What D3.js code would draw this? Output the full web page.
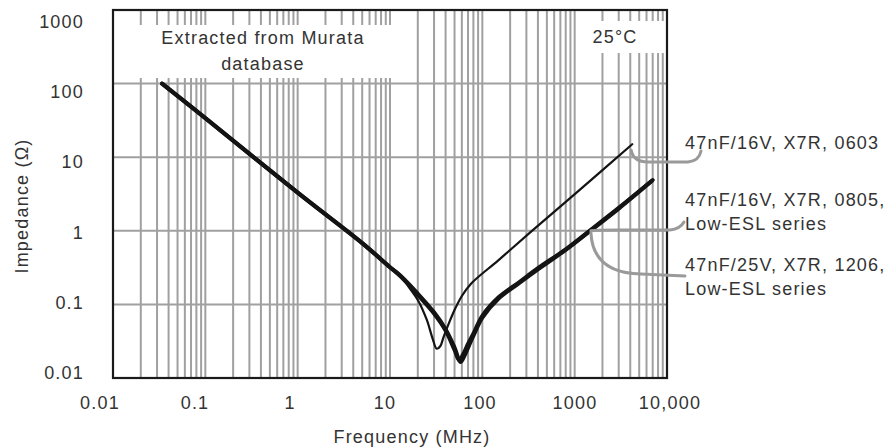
<!DOCTYPE html>
<html>
<head>
<meta charset="utf-8">
<script src="https://cdn.jsdelivr.net/npm/d3@7"></script>
<style>
  html, body { margin: 0; padding: 0; background: #fff; }
  svg text { font-family: "Liberation Sans", Arial, Helvetica, sans-serif; fill: #333; }
</style>
</head>
<body>
<svg id="chart" width="896" height="448"></svg>
<script>
// ---------- data ----------
const xTicks = [0.01, 0.1, 1, 10, 100, 1000, 10000];
const xTickLabels = ["0.01", "0.1", "1", "10", "100", "1000", "10,000"];
const yTicks = [0.01, 0.1, 1, 10, 100, 1000];
const yTickLabels = ["0.01", "0.1", "1", "10", "100", "1000"];

const freq0603 = [0.034, 0.1, 1, 5, 10, 13, 16, 20, 25, 29, 32, 35, 38, 42, 50, 60, 75, 150, 330, 1150, 4200];
const z0603    = [100, 34, 3.3, 0.68, 0.33, 0.245, 0.172, 0.115, 0.062, 0.034, 0.025, 0.027, 0.036, 0.05, 0.084, 0.13, 0.19, 0.40, 0.95, 3.65, 15];

const freq0805 = [0.034, 0.1, 1, 5, 10, 13, 20, 30, 40, 50, 56, 62, 70, 80, 100, 150, 250, 400, 800, 1450, 3000, 7000];
const z0805    = [100, 34, 3.3, 0.68, 0.32, 0.24, 0.135, 0.075, 0.044, 0.024, 0.0175, 0.021, 0.029, 0.04, 0.07, 0.125, 0.2, 0.31, 0.56, 1.0, 2.05, 4.9];

const freq1206 = [0.034, 0.1, 1, 5, 10, 13, 20, 30, 40, 50, 58, 64, 72, 82, 100, 150, 250, 400, 800, 1450, 3000, 6800];
const z1206    = [100, 34, 3.3, 0.68, 0.32, 0.245, 0.14, 0.078, 0.046, 0.026, 0.0165, 0.02, 0.028, 0.04, 0.066, 0.12, 0.195, 0.3, 0.55, 0.98, 2.0, 4.7];

const seriesLabels = [
  ["47nF/16V, X7R, 0603"],
  ["47nF/16V, X7R, 0805,", "Low-ESL series"],
  ["47nF/25V, X7R, 1206,", "Low-ESL series"]
];
const boxNote = ["Extracted from Murata", "database"];
const tempNote = "25°C";
const xTitle = "Frequency (MHz)";
const yTitle = "Impedance (Ω)";

// ---------- layout ----------
const svg = d3.select("#chart");
const L = 113, R = 667, T = 10, B = 378;
const FS = 18, LS = 1.2;

const x = d3.scaleLog().domain([0.01, 10000]).range([L, R]);
const y = d3.scaleLog().domain([0.01, 1000]).range([B, T]);
// tick labels sit slightly spread compared to the grid in the reference
const xLab = d3.scaleLog().domain([0.01, 10000]).range([100, 670]);
const yLab = d3.scaleLog().domain([0.01, 1000]).range([373, 22]);

// ---------- grid ----------
const minor = [];
for (let e = -2; e < 4; e++) for (let n = 1; n < 10; n++) minor.push(n * Math.pow(10, e));
const grid = svg.append("g");
grid.selectAll("line.v").data(minor.filter(v => v > 0.01)).join("line")
  .attr("x1", d => x(d)).attr("x2", d => x(d))
  .attr("y1", T).attr("y2", B)
  .attr("stroke", "#a0a0a0").attr("stroke-width", 2);
grid.selectAll("line.h").data(yTicks.slice(1, -1)).join("line")
  .attr("x1", L).attr("x2", R)
  .attr("y1", d => y(d)).attr("y2", d => y(d))
  .attr("stroke", "#a0a0a0").attr("stroke-width", 2);

// white note boxes that interrupt the grid
svg.append("rect").attr("x", L + 1).attr("y", 25).attr("width", 405 - L).attr("height", 53).attr("fill", "#fff");
svg.append("rect").attr("x", 586).attr("y", 21).attr("width", R - 587).attr("height", 32).attr("fill", "#fff");

svg.append("text").attr("x", 263).attr("y", 38).attr("text-anchor", "middle")
  .attr("dominant-baseline", "central").attr("font-size", FS).attr("letter-spacing", LS).text(boxNote[0]);
svg.append("text").attr("x", 263).attr("y", 64).attr("text-anchor", "middle")
  .attr("dominant-baseline", "central").attr("font-size", FS).attr("letter-spacing", LS).text(boxNote[1]);
svg.append("text").attr("x", 615).attr("y", 37).attr("text-anchor", "middle")
  .attr("dominant-baseline", "central").attr("font-size", FS).attr("letter-spacing", LS).text(tempNote);

// ---------- curves ----------
const line = d3.line().x(d => x(d[0])).y(d => y(d[1])).curve(d3.curveCatmullRom.alpha(0.5));
const curves = [
  { f: freq0805, z: z0805, w: 4 },
  { f: freq1206, z: z1206, w: 4 },
  { f: freq0603, z: z0603, w: 2.2 }
];
svg.append("g").selectAll("path").data(curves).join("path")
  .attr("d", c => line(c.f.map((f, i) => [f, c.z[i]])))
  .attr("fill", "none").attr("stroke", "#141414")
  .attr("stroke-width", c => c.w).attr("stroke-linejoin", "round").attr("stroke-linecap", "round");

// ---------- frame ----------
svg.append("rect").attr("x", L).attr("y", T).attr("width", R - L).attr("height", B - T)
  .attr("fill", "none").attr("stroke", "#1a1a1a").attr("stroke-width", 2.2);

// ---------- axes labels ----------
svg.append("g").selectAll("text").data(xTicks).join("text")
  .attr("x", d => xLab(d)).attr("y", 403).attr("text-anchor", "middle")
  .attr("dominant-baseline", "central").attr("font-size", FS).attr("letter-spacing", LS)
  .text((d, i) => xTickLabels[i]);
svg.append("g").selectAll("text").data(yTicks).join("text")
  .attr("x", 84).attr("y", d => yLab(d)).attr("text-anchor", "end")
  .attr("dominant-baseline", "central").attr("font-size", FS).attr("letter-spacing", LS)
  .text((d, i) => yTickLabels[i]);

svg.append("text").attr("x", 412).attr("y", 437).attr("text-anchor", "middle")
  .attr("dominant-baseline", "central").attr("font-size", FS).attr("letter-spacing", LS).text(xTitle);
svg.append("text").attr("transform", "translate(22,206) rotate(-90)").attr("text-anchor", "middle")
  .attr("dominant-baseline", "central").attr("font-size", FS).attr("letter-spacing", LS).text(yTitle);

// ---------- callouts ----------
const calloutY = [[143], [200, 224], [265, 289]];
const lg = svg.append("g");
seriesLabels.forEach((lines, i) => {
  lines.forEach((t, j) => {
    lg.append("text").attr("x", 685).attr("y", calloutY[i][j])
      .attr("dominant-baseline", "central").attr("font-size", FS).attr("letter-spacing", LS).text(t);
  });
});
// connector hooks from curve end / crossing to each label
const p0603 = [x(freq0603[freq0603.length - 1]), y(z0603[z0603.length - 1])];
const pLow = [x(1500), y(1.03)];
const hooks = [
  `M${p0603[0] - 1},${p0603[1] + 6} Q${p0603[0] + 1},${162} ${p0603[0] + 16},162 L688,162 Q699,161 701,151`,
  `M${pLow[0]},${pLow[1] + 1} Q${pLow[0] + 6},230 ${pLow[0] + 26},230 L670,230 Q680,229 684,222`,
  `M${pLow[0]},${pLow[1] + 3} Q${pLow[0] + 2},273 ${pLow[0] + 50},274 L685,276`
];
lg.selectAll("path").data(hooks).join("path")
  .attr("d", d => d).attr("fill", "none").attr("stroke", "#9a9a9a").attr("stroke-width", 3)
  .attr("stroke-linecap", "round");
</script>
</body>
</html>
